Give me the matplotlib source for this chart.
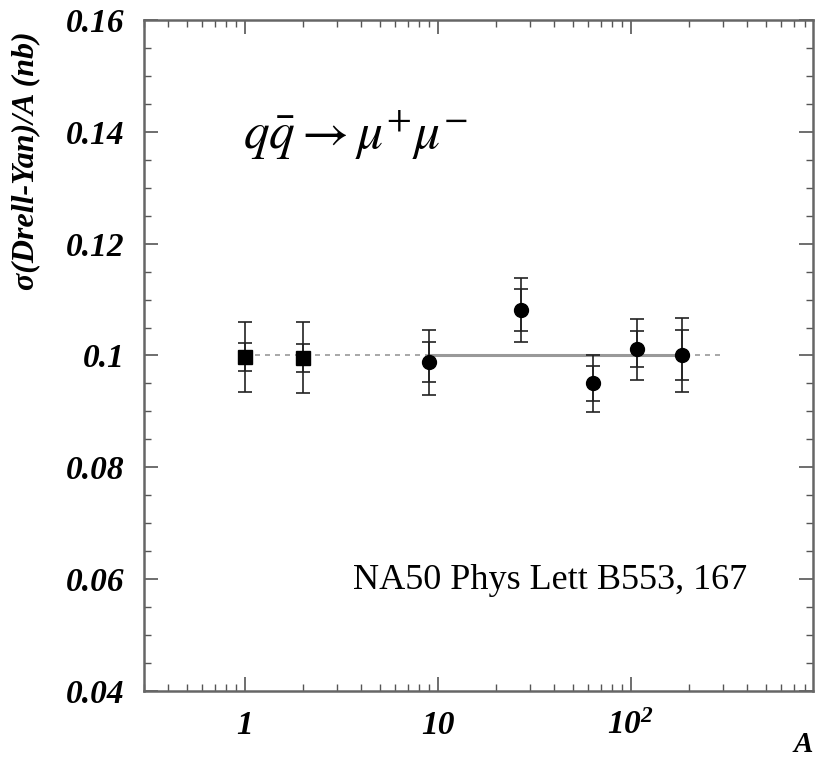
import matplotlib
matplotlib.use("Agg")
import matplotlib.pyplot as plt
from matplotlib.ticker import FixedLocator, MultipleLocator, LogLocator, NullFormatter

plt.rcParams['font.family'] = ['Liberation Serif', 'DejaVu Serif']
plt.rcParams['mathtext.fontset'] = 'custom'
plt.rcParams['mathtext.rm'] = 'Liberation Serif:bold:italic'
plt.rcParams['mathtext.it'] = 'Liberation Serif:bold:italic'
plt.rcParams['mathtext.bf'] = 'Liberation Serif:bold:italic'

# NA50 Drell-Yan cross section per nucleon vs target mass number
targets = ['H', 'D', 'Be', 'Al', 'Cu', 'Ag', 'W']
A = [1, 2, 9, 27, 63.5, 108, 184]
sigma = [0.0997, 0.0996, 0.0988, 0.1081, 0.0950, 0.1011, 0.1001]
err_stat = [0.0025, 0.0025, 0.0036, 0.0037, 0.0031, 0.0032, 0.0044]
err_tot = [0.0063, 0.0063, 0.0058, 0.0057, 0.0051, 0.0054, 0.0066]
square = [True, True, False, False, False, False, False]

fit_value = 0.1

fig = plt.figure(figsize=(8.19, 7.62), dpi=100)
ax = fig.add_axes([0.1758, 0.0932, 0.8169, 0.8806])

# reference lines
ax.plot([1, 307], [fit_value, fit_value], ls=(0, (3, 3)), color='#999999', lw=1.2, zorder=1)
ax.plot([A[2], A[-1]], [fit_value, fit_value], ls='-', color='#999999', lw=2.2, zorder=1)

for x, y, es, et, sq in zip(A, sigma, err_stat, err_tot, square):
    ax.errorbar(x, y, yerr=et, fmt='none', ecolor='#222222', elinewidth=1.2,
                capsize=5, capthick=1.2, zorder=2)
    ax.errorbar(x, y, yerr=es, fmt='none', ecolor='#222222', elinewidth=1.2,
                capsize=5, capthick=1.2, zorder=2)
    ax.plot(x, y, marker='s' if sq else 'o', ms=9.5 if sq else 10, color='black',
            ls='none', zorder=3)

ax.set_xscale('log')
ax.set_xlim(0.3, 880)
ax.set_ylim(0.04, 0.16)

ax.xaxis.set_major_locator(FixedLocator([1, 10, 100]))
ax.set_xticklabels(['1', '10', r'$10^{2}$'])
ax.xaxis.set_minor_locator(LogLocator(base=10, subs=range(2, 10), numticks=20))
ax.xaxis.set_minor_formatter(NullFormatter())
ax.yaxis.set_minor_locator(MultipleLocator(0.005))
ax.set_yticks([0.04, 0.06, 0.08, 0.1, 0.12, 0.14, 0.16])
ax.set_yticklabels(['0.04', '0.06', '0.08', '0.1', '0.12', '0.14', '0.16'])

for lab in ax.get_xticklabels() + ax.get_yticklabels():
    lab.set_fontweight('bold')
    lab.set_fontstyle('italic')
    lab.set_fontsize(24)

ax.tick_params(which='both', direction='in', top=True, right=True, color='#555555')
ax.tick_params(which='major', length=10, width=1.2)
ax.tick_params(which='minor', length=5, width=1.0)
ax.tick_params(axis='x', pad=14)
ax.tick_params(axis='y', pad=14)
for sp in ax.spines.values():
    sp.set_color('#666666')
    sp.set_linewidth(1.8)

ax.set_ylabel('σ(Drell-Yan)/A (nb)', fontsize=23, fontweight='bold', fontstyle='italic')
ax.yaxis.set_label_coords(-0.155, 0.79)
ax.set_xlabel('A', fontsize=21, fontweight='bold', fontstyle='italic', va='center')
ax.xaxis.set_label_coords(0.985, -0.08)

ax.text(0.148, 0.1394, r'$q\bar{q} \rightarrow \mu^{+}\mu^{-}$', transform=ax.get_yaxis_transform(),
        fontsize=37, math_fontfamily='stix', va='center', ha='left')
ax.text(0.312, 0.0598, 'NA50 Phys Lett B553, 167', transform=ax.get_yaxis_transform(),
        fontsize=26, va='center', ha='left')

fig.savefig('out.png', dpi=100)
